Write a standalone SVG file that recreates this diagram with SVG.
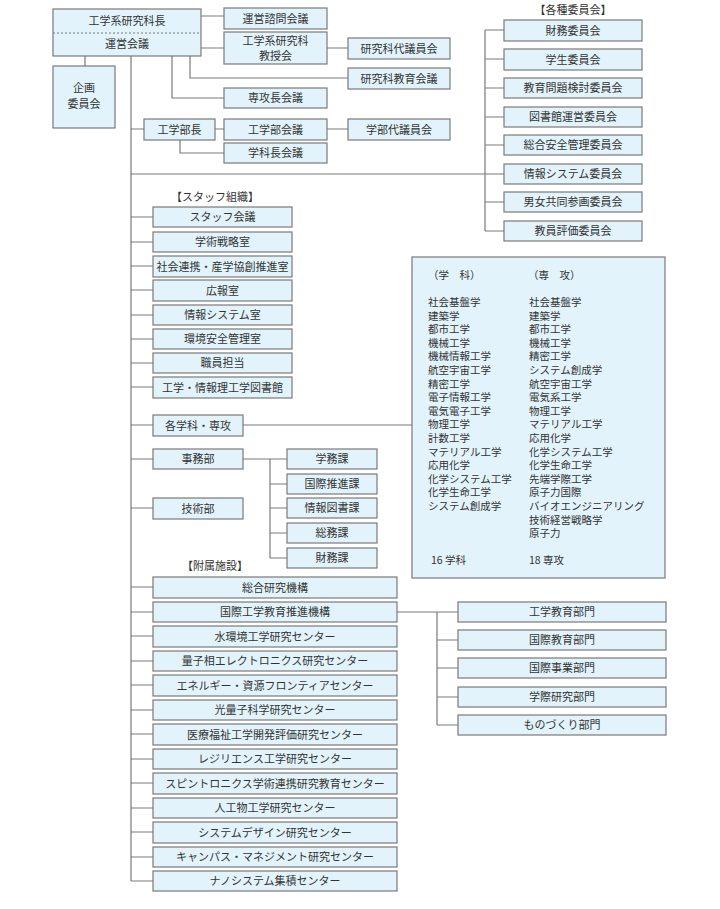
<svg xmlns="http://www.w3.org/2000/svg" width="720" height="909" viewBox="0 0 720 909">
<style>
.b{fill:#e2f3fb;stroke:#7a7a7a;stroke-width:1.2}
.l{fill:none;stroke:#7a7a7a;stroke-width:1.2}
text{font-family:"Noto Sans CJK JP","Liberation Sans",sans-serif;font-size:11px;fill:#333}
.c{text-anchor:middle}
.s{font-size:10.5px}
</style>
<rect width="720" height="909" fill="#fff"/>
<g id="connectors" class="l">
<path d="M131 56V881M201 16H224M201 48H224M327 48H348M190 56V78H348M172 56V98H224M85 56V66"/>
<path d="M131 129H144M215 129H224M327 129H348M180 140V153H224M131 174H504M485 30V231"/>
<path d="M485 30H504M485 59H504M485 88H504M485 117H504M485 145H504M485 202H504M485 231H504"/>
<path d="M131 217H153M131 242H153M131 266H153M131 290H153M131 315H153M131 339H153M131 363H153M131 387H153"/>
<path d="M131 425H153M243 425H412M131 459H153M131 508H153M243 459H287M270 459V558M270 484H287M270 508H287M270 533H287M270 558H287"/>
<path d="M131 587H153M131 612H153M131 636H153M131 661H153M131 685H153M131 710H153M131 734H153M131 759H153M131 783H153M131 808H153M131 832H153M131 857H153M131 881H153"/>
<path d="M397 612H458M437 612V725M437 640H458M437 668H458M437 697H458M437 725H458"/>
</g>
<g id="head"><rect class="b" x="53" y="9" width="148" height="47"/><path d="M53 33H201" stroke="#7a7a7a" stroke-dasharray="2,2" fill="none"/><text class="c" x="127" y="25">工学系研究科長</text><text class="c" x="127" y="48">運営会議</text></g>
<g id="n1"><rect class="b" x="224" y="8" width="103" height="21"/><text class="c" x="275.5" y="22.5">運営諮問会議</text></g>
<g id="n2"><rect class="b" x="224" y="32" width="103" height="32"/><text class="c" x="275.5" y="44.5">工学系研究科</text><text class="c" x="275.5" y="59.5">教授会</text></g>
<g id="n3"><rect class="b" x="348" y="38" width="102" height="21"/><text class="c" x="399" y="52.5">研究科代議員会</text></g>
<g id="n4"><rect class="b" x="348" y="68" width="102" height="21"/><text class="c" x="399" y="82.5">研究科教育会議</text></g>
<g id="n5"><rect class="b" x="224" y="88" width="103" height="20"/><text class="c" x="275.5" y="102">専攻長会議</text></g>
<g id="n6"><rect class="b" x="53" y="66" width="62" height="62"/><text class="c" x="84" y="92">企画</text><text class="c" x="84" y="107.5">委員会</text></g>
<g id="n7"><rect class="b" x="144" y="119" width="71" height="21"/><text class="c" x="179.5" y="133.5">工学部長</text></g>
<g id="n8"><rect class="b" x="224" y="119" width="103" height="21"/><text class="c" x="275.5" y="133.5">工学部会議</text></g>
<g id="n9"><rect class="b" x="348" y="119" width="102" height="21"/><text class="c" x="399" y="133.5">学部代議員会</text></g>
<g id="n10"><rect class="b" x="224" y="143" width="103" height="20"/><text class="c" x="275.5" y="157">学科長会議</text></g>
<g id="committees">
<text class="c" x="573" y="14">【各種委員会】</text>
<rect class="b" x="504" y="20" width="138" height="21"/><text class="c" x="573" y="34.5">財務委員会</text>
<rect class="b" x="504" y="49" width="138" height="21"/><text class="c" x="573" y="63.5">学生委員会</text>
<rect class="b" x="504" y="78" width="138" height="20"/><text class="c" x="573" y="92">教育問題検討委員会</text>
<rect class="b" x="504" y="107" width="138" height="20"/><text class="c" x="573" y="121">図書館運営委員会</text>
<rect class="b" x="504" y="135" width="138" height="20"/><text class="c" x="573" y="149">総合安全管理委員会</text>
<rect class="b" x="504" y="164" width="138" height="20"/><text class="c" x="573" y="178">情報システム委員会</text>
<rect class="b" x="504" y="192" width="138" height="20"/><text class="c" x="573" y="206">男女共同参画委員会</text>
<rect class="b" x="504" y="221" width="138" height="20"/><text class="c" x="573" y="235">教員評価委員会</text>
</g>
<g id="staff">
<text class="c" x="215" y="201">【スタッフ組織】</text>
<rect class="b" x="153" y="207" width="139" height="20"/><text class="c" x="222.5" y="221">スタッフ会議</text>
<rect class="b" x="153" y="232" width="139" height="20"/><text class="c" x="222.5" y="246">学術戦略室</text>
<rect class="b" x="153" y="256" width="139" height="21"/><text class="c" x="222.5" y="270.5">社会連携・産学協創推進室</text>
<rect class="b" x="153" y="280" width="139" height="21"/><text class="c" x="222.5" y="294.5">広報室</text>
<rect class="b" x="153" y="305" width="139" height="20"/><text class="c" x="222.5" y="319">情報システム室</text>
<rect class="b" x="153" y="329" width="139" height="20"/><text class="c" x="222.5" y="343">環境安全管理室</text>
<rect class="b" x="153" y="353" width="139" height="20"/><text class="c" x="222.5" y="367">職員担当</text>
<rect class="b" x="153" y="377" width="139" height="21"/><text class="c" x="222.5" y="391.5">工学・情報理工学図書館</text>
</g>
<g id="dept"><rect class="b" x="153" y="415" width="90" height="21"/><text class="c" x="198" y="429.5">各学科・専攻</text></g>
<g id="list">
<rect class="b" x="412" y="257" width="253" height="321"/>
<text class="s" x="428" y="279">（学　科）</text><text class="s" x="528" y="279">（専　攻）</text>
<text class="s" x="428" y="306">社会基盤学</text><text class="s" x="428" y="319.6">建築学</text><text class="s" x="428" y="333.2">都市工学</text><text class="s" x="428" y="346.8">機械工学</text><text class="s" x="428" y="360.4">機械情報工学</text><text class="s" x="428" y="374">航空宇宙工学</text><text class="s" x="428" y="387.6">精密工学</text><text class="s" x="428" y="401.2">電子情報工学</text><text class="s" x="428" y="414.8">電気電子工学</text><text class="s" x="428" y="428.4">物理工学</text><text class="s" x="428" y="442">計数工学</text><text class="s" x="428" y="455.6">マテリアル工学</text><text class="s" x="428" y="469.2">応用化学</text><text class="s" x="428" y="482.8">化学システム工学</text><text class="s" x="428" y="496.4">化学生命工学</text><text class="s" x="428" y="510">システム創成学</text>
<text class="s" x="529" y="306">社会基盤学</text><text class="s" x="529" y="319.6">建築学</text><text class="s" x="529" y="333.2">都市工学</text><text class="s" x="529" y="346.8">機械工学</text><text class="s" x="529" y="360.4">精密工学</text><text class="s" x="529" y="374">システム創成学</text><text class="s" x="529" y="387.6">航空宇宙工学</text><text class="s" x="529" y="401.2">電気系工学</text><text class="s" x="529" y="414.8">物理工学</text><text class="s" x="529" y="428.4">マテリアル工学</text><text class="s" x="529" y="442">応用化学</text><text class="s" x="529" y="455.6">化学システム工学</text><text class="s" x="529" y="469.2">化学生命工学</text><text class="s" x="529" y="482.8">先端学際工学</text><text class="s" x="529" y="496.4">原子力国際</text><text class="s" x="529" y="510">バイオエンジニアリング</text><text class="s" x="529" y="523.6">技術経営戦略学</text><text class="s" x="529" y="537.2">原子力</text>
<text class="s" x="431" y="564">16 学科</text><text class="s" x="529" y="564">18 専攻</text>
</g>
<g id="office">
<rect class="b" x="153" y="449" width="90" height="20"/><text class="c" x="198" y="463">事務部</text>
<rect class="b" x="153" y="498" width="90" height="21"/><text class="c" x="198" y="512.5">技術部</text>
<rect class="b" x="287" y="449" width="90" height="20"/><text class="c" x="332" y="463">学務課</text>
<rect class="b" x="287" y="474" width="90" height="20"/><text class="c" x="332" y="488">国際推進課</text>
<rect class="b" x="287" y="498" width="90" height="20"/><text class="c" x="332" y="512">情報図書課</text>
<rect class="b" x="287" y="523" width="90" height="20"/><text class="c" x="332" y="537">総務課</text>
<rect class="b" x="287" y="548" width="90" height="20"/><text class="c" x="332" y="562">財務課</text>
</g>
<g id="facilities">
<text class="c" x="215" y="570">【附属施設】</text>
<rect class="b" x="153" y="577" width="244" height="21"/><text class="c" x="275" y="591.5">総合研究機構</text>
<rect class="b" x="153" y="602" width="244" height="20"/><text class="c" x="275" y="616">国際工学教育推進機構</text>
<rect class="b" x="153" y="626" width="244" height="21"/><text class="c" x="275" y="640.5">水環境工学研究センター</text>
<rect class="b" x="153" y="651" width="244" height="20"/><text class="c" x="275" y="665">量子相エレクトロニクス研究センター</text>
<rect class="b" x="153" y="675" width="244" height="21"/><text class="c" x="275" y="689.5">エネルギー・資源フロンティアセンター</text>
<rect class="b" x="153" y="700" width="244" height="20"/><text class="c" x="275" y="714">光量子科学研究センター</text>
<rect class="b" x="153" y="724" width="244" height="21"/><text class="c" x="275" y="738.5">医療福祉工学開発評価研究センター</text>
<rect class="b" x="153" y="749" width="244" height="20"/><text class="c" x="275" y="763">レジリエンス工学研究センター</text>
<rect class="b" x="153" y="773" width="244" height="21"/><text class="c" x="275" y="787.5">スピントロニクス学術連携研究教育センター</text>
<rect class="b" x="153" y="798" width="244" height="20"/><text class="c" x="275" y="812">人工物工学研究センター</text>
<rect class="b" x="153" y="822" width="244" height="21"/><text class="c" x="275" y="836.5">システムデザイン研究センター</text>
<rect class="b" x="153" y="847" width="244" height="20"/><text class="c" x="275" y="861">キャンパス・マネジメント研究センター</text>
<rect class="b" x="153" y="871" width="244" height="20"/><text class="c" x="275" y="885">ナノシステム集積センター</text>
</g>
<g id="intl">
<rect class="b" x="458" y="602" width="208" height="20"/><text class="c" x="562" y="616">工学教育部門</text>
<rect class="b" x="458" y="630" width="208" height="20"/><text class="c" x="562" y="644">国際教育部門</text>
<rect class="b" x="458" y="658" width="208" height="20"/><text class="c" x="562" y="672">国際事業部門</text>
<rect class="b" x="458" y="687" width="208" height="20"/><text class="c" x="562" y="701">学際研究部門</text>
<rect class="b" x="458" y="715" width="208" height="20"/><text class="c" x="562" y="729">ものづくり部門</text>
</g>
</svg>
